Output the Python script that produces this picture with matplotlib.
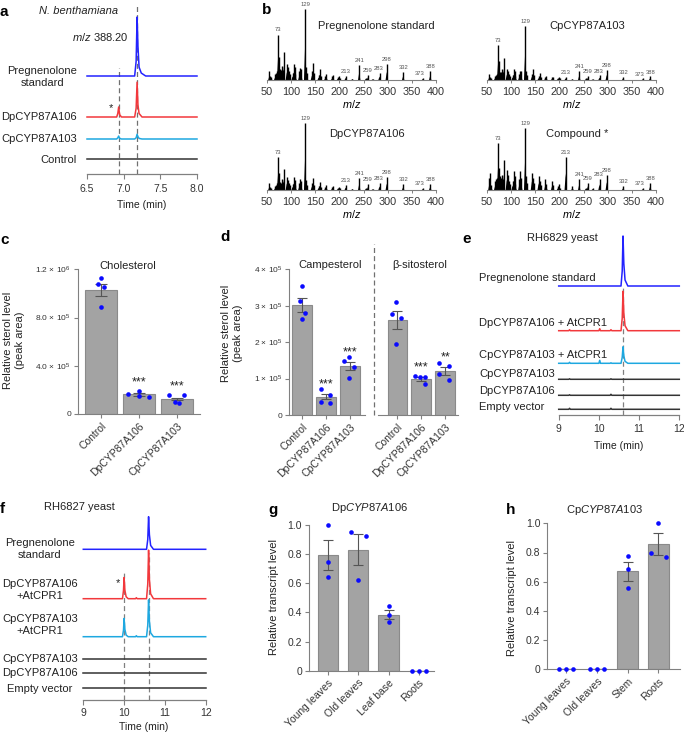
import numpy as np
import matplotlib
matplotlib.use('Agg')
import matplotlib.pyplot as plt

plt.rcParams['font.family'] = ['Liberation Sans', 'DejaVu Sans']
plt.rcParams['mathtext.fontset'] = 'custom'
plt.rcParams['mathtext.rm'] = 'Liberation Sans'
plt.rcParams['mathtext.it'] = 'Liberation Sans:italic'
plt.rcParams['font.size'] = 7.5
plt.rcParams['text.color'] = '#222222'

W, H = 684, 733

# ---------------- data ----------------
# a: N. benthamiana chromatograms (relative intensity, standard peak = 100)
a_t_std = [6.50, 7.15, 7.17, 7.183, 7.195, 7.21, 7.24, 7.30, 8.00]
a_i_std = [0, 0, 25, 100, 50, 15, 5, 0, 0]
a_t_dp = [6.50, 6.905, 6.92, 6.932, 6.945, 6.97, 7.15, 7.17, 7.183, 7.195, 7.21, 7.25, 8.00]
a_i_dp = [0, 0, 6, 17, 4, 0, 0, 15, 59, 20, 6, 0, 0]
a_t_cp = [6.50, 6.905, 6.92, 6.932, 6.945, 6.97, 7.15, 7.17, 7.183, 7.195, 7.21, 7.25, 8.00]
a_i_cp = [0, 0, 2, 5, 1, 0, 0, 2, 8, 4, 1, 0, 0]
a_t_ctrl = [6.50, 8.00]
a_i_ctrl = [0, 0]

# b: mass spectra (relative abundance, m/z 129 = 1)
mz = [55, 57, 59, 67, 69, 71, 73, 75, 77, 79, 81, 83, 85, 91, 93, 95, 97,
      103, 105, 107, 109, 117, 119, 121, 129, 131, 133, 143, 145, 147,
      157, 159, 161, 171, 173, 185, 187, 197, 199, 201, 213, 227, 241,
      255, 259, 269, 283, 298, 332, 373, 388]
ms_std = [0.12, 0.06, 0.04, 0.08, 0.10, 0.12, 0.64, 0.33, 0.15, 0.14, 0.20, 0.14, 0.39,
          0.22, 0.18, 0.12, 0.08, 0.10, 0.22, 0.18, 0.08, 0.12, 0.17, 0.16, 1.00, 0.18,
          0.10, 0.12, 0.24, 0.10, 0.07, 0.15, 0.06, 0.06, 0.08, 0.05, 0.07, 0.04, 0.06,
          0.03, 0.06, 0.02, 0.21, 0.03, 0.075, 0.02, 0.10, 0.225, 0.11, 0.03, 0.12]
ms_cp = [0.12, 0.06, 0.04, 0.08, 0.10, 0.12, 0.65, 0.35, 0.15, 0.14, 0.20, 0.14, 0.40,
         0.20, 0.16, 0.12, 0.08, 0.10, 0.20, 0.16, 0.08, 0.12, 0.17, 0.16, 1.00, 0.17,
         0.10, 0.12, 0.20, 0.10, 0.07, 0.13, 0.06, 0.06, 0.07, 0.05, 0.06, 0.04, 0.05,
         0.03, 0.06, 0.02, 0.17, 0.03, 0.08, 0.02, 0.09, 0.185, 0.06, 0.03, 0.07]
ms_dp = [0.10, 0.05, 0.03, 0.06, 0.08, 0.10, 0.49, 0.26, 0.12, 0.11, 0.16, 0.12, 0.31,
         0.20, 0.15, 0.10, 0.07, 0.09, 0.20, 0.15, 0.07, 0.11, 0.16, 0.14, 1.00, 0.15,
         0.08, 0.10, 0.18, 0.08, 0.06, 0.12, 0.05, 0.05, 0.07, 0.04, 0.06, 0.03, 0.05,
         0.03, 0.075, 0.02, 0.18, 0.03, 0.09, 0.02, 0.11, 0.19, 0.09, 0.03, 0.09]
ms_cmp = [0.20, 0.27, 0.08, 0.14, 0.18, 0.20, 0.76, 0.35, 0.22, 0.20, 0.25, 0.18, 0.49,
          0.33, 0.25, 0.15, 0.10, 0.14, 0.30, 0.22, 0.10, 0.18, 0.30, 0.20, 1.00, 0.22,
          0.12, 0.28, 0.20, 0.12, 0.22, 0.14, 0.08, 0.18, 0.10, 0.14, 0.08, 0.06, 0.09,
          0.04, 0.53, 0.07, 0.18, 0.04, 0.12, 0.03, 0.18, 0.25, 0.06, 0.03, 0.12]
ms_labels = [73, 129, 213, 241, 259, 283, 298, 332, 373, 388]

# c: cholesterol
c_groups = ['Control', 'DpCYP87A106', 'CpCYP87A103']
c_mean = [1.03e6, 0.163e6, 0.124e6]
c_sem = [0.048e6, 0.012e6, 0.012e6]
c_points = [[1.125e6, 1.076e6, 1.056e6, 0.885e6],
            [0.163e6, 0.191e6, 0.152e6, 0.141e6],
            [0.158e6, 0.155e6, 0.102e6, 0.094e6]]
c_sig = ['', '***', '***']

# d: campesterol and beta-sitosterol
d_groups = ['Control', 'DpCYP87A106', 'CpCYP87A103']
d_camp_mean = [3.02e5, 0.50e5, 1.345e5]
d_camp_sem = [0.20e5, 0.07e5, 0.11e5]
d_camp_points = [[3.54e5, 3.13e5, 2.79e5, 2.63e5],
                 [0.705e5, 0.55e5, 0.365e5, 0.34e5],
                 [1.48e5, 1.58e5, 1.33e5, 1.01e5]]
d_camp_sig = ['', '***', '***']
d_sito_mean = [2.61e5, 0.99e5, 1.21e5]
d_sito_sem = [0.24e5, 0.05e5, 0.10e5]
d_sito_points = [[3.09e5, 2.77e5, 2.66e5, 1.95e5],
                 [1.06e5, 1.05e5, 1.04e5, 0.84e5],
                 [1.44e5, 1.34e5, 1.12e5, 0.97e5]]
d_sito_sig = ['', '***', '**']

# e: RH6829 yeast chromatograms (standard peak = 100)
e_t_std = [9.0, 10.55, 10.58, 10.60, 10.62, 10.65, 10.72, 12.0]
e_i_std = [0, 0, 30, 100, 45, 12, 0, 0]
e_t_dpat = [9.0, 9.25, 9.27, 9.29, 10.0, 10.02, 10.04, 10.28, 10.30, 10.32,
            10.55, 10.58, 10.60, 10.62, 10.65, 10.72, 12.0]
e_i_dpat = [0, 0, 2, 0, 0, 4, 0, 0, 2, 0, 0, 25, 79, 35, 10, 0, 0]
e_t_cpat = [9.0, 9.25, 9.27, 9.29, 10.0, 10.02, 10.04, 10.28, 10.30, 10.32,
            10.55, 10.58, 10.60, 10.62, 10.65, 10.72, 12.0]
e_i_cpat = [0, 0, 2, 0, 0, 6, 0, 0, 1, 0, 0, 12, 33, 15, 4, 0, 0]
e_t_cp = [9.0, 9.25, 9.27, 9.29, 10.28, 10.30, 10.32, 12.0]
e_i_cp = [0, 0, 1, 0, 0, 1, 0, 0]
e_t_dp = [9.0, 9.25, 9.27, 9.29, 10.28, 10.30, 10.32, 12.0]
e_i_dp = [0, 0, 1, 0, 0, 2, 0, 0]
e_t_ev = [9.0, 9.25, 9.27, 9.29, 10.28, 10.30, 10.32, 12.0]
e_i_ev = [0, 0, 2, 0, 0, 2, 0, 0]

# f: RH6827 yeast chromatograms (standard peak = 100)
f_t_std = [9.0, 10.55, 10.58, 10.60, 10.62, 10.65, 10.72, 12.0]
f_i_std = [0, 0, 30, 100, 45, 12, 0, 0]
f_t_dpat = [9.0, 9.96, 9.985, 10.00, 10.02, 10.05, 10.10, 10.28, 10.30, 10.32,
            10.55, 10.58, 10.60, 10.62, 10.65, 10.72, 12.0]
f_i_dpat = [0, 0, 25, 65, 25, 6, 0, 0, 3, 0, 0, 45, 149, 60, 15, 0, 0]
f_t_cpat = [9.0, 9.96, 9.985, 10.00, 10.02, 10.05, 10.10, 10.28, 10.30, 10.32,
            10.55, 10.58, 10.60, 10.62, 10.65, 10.72, 12.0]
f_i_cpat = [0, 0, 20, 56, 22, 5, 0, 0, 3, 0, 0, 35, 113, 48, 12, 0, 0]
f_t_cp = [9.0, 12.0]
f_i_cp = [0, 0]
f_t_dp = [9.0, 12.0]
f_i_dp = [0, 0]
f_t_ev = [9.0, 12.0]
f_i_ev = [0, 0]

# g, h: transcript levels
g_tissues = ['Young leaves', 'Old leaves', 'Leaf base', 'Roots']
g_mean = [0.795, 0.83, 0.385, 0.0]
g_sem = [0.105, 0.105, 0.03, 0.0]
g_points = [[1.0, 0.744, 0.64], [0.95, 0.922, 0.622], [0.442, 0.38, 0.332], [0.0, 0.0, 0.0]]
h_tissues = ['Young leaves', 'Old leaves', 'Stem', 'Roots']
h_mean = [0.0, 0.0, 0.672, 0.857]
h_sem = [0.0, 0.0, 0.065, 0.075]
h_points = [[0.0, 0.0, 0.0], [0.0, 0.0, 0.0], [0.776, 0.685, 0.555], [1.0, 0.80, 0.77]]

# ---------------- styles ----------------
BLUE = '#2323ff'
RED = '#f2383c'
CYAN = '#1ea8e0'
DARK = '#333333'
AXIS = '#808080'
BAR = '#a3a3a3'
BAR_EDGE = '#8a8a8a'
ERR = '#555555'
DOT = '#0a0aff'

fig = plt.figure(figsize=(W / 100, H / 100), dpi=100)


def px_axes(left, top, right, bottom):
    return fig.add_axes([left / W, 1 - bottom / H, (right - left) / W, (bottom - top) / H])


def ftext(x, y, s, **kw):
    kw.setdefault('ha', 'center')
    kw.setdefault('va', 'center')
    fig.text(x / W, 1 - y / H, s, **kw)


def style_chrom(ax, xlim, ticks, ticklabels, height, pad):
    ax.set_xlim(xlim)
    ax.set_ylim(0, height)
    for s in ['left', 'top', 'right']:
        ax.spines[s].set_visible(False)
    ax.spines['bottom'].set_color(AXIS)
    ax.spines['bottom'].set_linewidth(0.9)
    ax.set_yticks([])
    ax.set_xticks(ticks)
    ax.set_xticklabels(ticklabels)
    ax.tick_params(axis='x', colors=AXIS, labelcolor=DARK, length=3.5, width=0.8,
                   pad=pad, labelsize=7.5)
    ax.patch.set_visible(False)


def trace(ax, t, i, base, scale, color):
    ax.plot(t, base + np.asarray(i) * scale, color=color, lw=1.1, zorder=3,
            solid_joinstyle='round', clip_on=False)


def style_bar(ax, ylim, yticks, yticklabels, xlim, xticks, xticklabels, ytick_size=7.5):
    ax.set_ylim(ylim)
    ax.set_xlim(xlim)
    for s in ['top', 'right']:
        ax.spines[s].set_visible(False)
    for s in ['left', 'bottom']:
        ax.spines[s].set_color(AXIS)
        ax.spines[s].set_linewidth(0.8)
    ax.set_yticks(yticks)
    ax.set_yticklabels(yticklabels, fontsize=ytick_size)
    ax.set_xticks(xticks)
    ax.set_xticklabels(xticklabels, rotation=45, ha='right', rotation_mode='anchor', fontsize=7.5)
    ax.tick_params(colors=AXIS, labelcolor=DARK, length=3, width=0.8, pad=2)
    ax.patch.set_visible(False)


def bars(ax, x, means, sems, points, offsets, width, capsize):
    ax.bar(x, means, width=width, color=BAR, edgecolor=BAR_EDGE, lw=0.8, zorder=1)
    ax.errorbar(x, means, yerr=sems, fmt='none', ecolor=ERR, elinewidth=0.8,
                capsize=capsize, capthick=0.8, zorder=2)
    for xi, pts, offs in zip(x, points, offsets):
        ax.scatter(xi + np.asarray(offs), pts, s=11, color=DOT, zorder=4,
                   linewidths=0, clip_on=False)


# ---------------- panel a ----------------
ax = px_axes(87, 5, 197, 174)
style_chrom(ax, (6.5, 8.0), [6.5, 7.0, 7.5, 8.0], ['6.5', '7.0', '7.5', '8.0'], 169, 4)
ax.plot([6.93, 6.93], [0, 106], ls=(0, (4, 2.5)), color='#707070', lw=0.9, zorder=1)
ax.plot([7.18, 7.18], [0, 169], ls=(0, (4, 2.5)), color='#707070', lw=0.9, zorder=1)
trace(ax, a_t_std, a_i_std, 98, 0.59, BLUE)
trace(ax, a_t_dp, a_i_dp, 57, 0.59, RED)
trace(ax, a_t_cp, a_i_cp, 35, 0.59, CYAN)
trace(ax, a_t_ctrl, a_i_ctrl, 15, 0.59, DARK)
ftext(142, 205, 'Time (min)')
ftext(79, 11, 'N. benthamiana', style='italic', fontsize=8)
ftext(100, 37, r'$m/z$ 388.20', fontsize=8)
ftext(77, 77, 'Pregnenolone\nstandard', ha='right', multialignment='center', fontsize=8, linespacing=1.25)
ftext(77, 117, 'DpCYP87A106', ha='right', fontsize=8)
ftext(77, 139, 'CpCYP87A103', ha='right', fontsize=8)
ftext(77, 160, 'Control', ha='right', fontsize=8)
ftext(111, 108, '*', fontsize=8)

# ---------------- panel b ----------------
spectra = [
    (ms_std, 'Pregnenolone standard', (267, 9, 436, 80), 376, 26),
    (ms_cp, 'CpCYP87A103', (487, 26, 656, 80), 587, 26),
    (ms_dp, 'DpCYP87A106', (267, 123, 436, 190), 367, 134),
    (ms_cmp, 'Compound *', (487, 128, 656, 190), 577, 134),
]
label_shift = {259: -1, 283: -1, 373: -7, 388: 1}
for heights, title, box, tx, ty in spectra:
    ax = px_axes(*box)
    for m, h in zip(mz, heights):
        ax.fill([m - 2.4, m, m + 2.4], [0, h * 0.5, 0], color='black', lw=0)
    ax.vlines(mz, 0, heights, color='black', lw=1.0)
    ax.set_xlim(50, 400)
    ax.set_ylim(0, 1)
    for s in ['left', 'top', 'right']:
        ax.spines[s].set_visible(False)
    ax.spines['bottom'].set_color(AXIS)
    ax.spines['bottom'].set_linewidth(0.8)
    ax.set_yticks([])
    ax.set_xticks(range(50, 401, 50))
    ax.tick_params(axis='x', colors=AXIS, labelcolor=DARK, length=2.5, width=0.7, pad=2.5, labelsize=7.8)
    ax.set_xlabel(r'$m/z$', fontsize=7.8, labelpad=1)
    ax.patch.set_visible(False)
    for m in ms_labels:
        h = heights[mz.index(m)]
        ax.text(m + label_shift.get(m, 0), h + 0.03, str(m), ha='center', va='bottom',
                fontsize=4.2, color='#555555')
    ftext(tx, ty, title, fontsize=8)

# ---------------- panel c ----------------
ax = px_axes(78, 269.3, 200, 414)
cx = np.arange(len(c_groups))
bars(ax, cx, c_mean, c_sem, c_points,
     [[0, -0.08, 0.08, 0], [-0.3, 0, 0, 0.27], [-0.22, 0.18, -0.05, 0.05]], 0.84, 4)
style_bar(ax, (0, 1.2e6), [0, 4e5, 8e5, 1.2e6],
          ['0', r'4.0 × 10$^{5}$', r'8.0 × 10$^{5}$', r'1.2 × 10$^{6}$'],
          (-0.6, 2.6), cx, c_groups, ytick_size=6)
for xi, m, e, s in zip(cx, c_mean, c_sem, c_sig):
    if s:
        ax.text(xi, m + e + 0.04e6, s, ha='center', va='bottom', fontsize=9)
ftext(128, 266, 'Cholesterol', fontsize=8)
ftext(14, 340, 'Relative sterol level\n(peak area)', rotation=90, multialignment='center', fontsize=8)

# ---------------- panel d ----------------
ax = px_axes(289.3, 269.3, 458, 415)
dx1 = np.arange(3)
dx2 = np.arange(3) + 4
bars(ax, dx1, d_camp_mean, d_camp_sem, d_camp_points,
     [[0, -0.1, 0.12, 0], [-0.22, 0.17, -0.22, 0.17], [-0.24, -0.03, 0.17, -0.03]], 0.83, 3.5)
bars(ax, dx2, d_sito_mean, d_sito_sem, d_sito_points,
     [[-0.06, -0.25, 0.15, -0.06], [-0.26, 0.15, -0.05, 0.15], [-0.24, 0.17, -0.24, 0.17]], 0.83, 3.5)
style_bar(ax, (0, 4e5), [0, 1e5, 2e5, 3e5, 4e5],
          ['0', r'1 × 10$^{5}$', r'2 × 10$^{5}$', r'3 × 10$^{5}$', r'4 × 10$^{5}$'],
          (-0.54, 6.54), np.concatenate([dx1, dx2]), d_groups + d_groups, ytick_size=6)
ax.spines['bottom'].set_visible(False)
ax.plot([-0.54, 2.62], [0, 0], color=AXIS, lw=0.8, clip_on=False)
ax.plot([3.17, 6.54], [0, 0], color=AXIS, lw=0.8, clip_on=False)
ax.plot([3.0, 3.0], [0, 4.7e5], ls=(0, (4, 2.5)), color='#707070', lw=0.9, clip_on=False)
for xs, ms, es, ss in [(dx1, d_camp_mean, d_camp_sem, d_camp_sig),
                       (dx2, d_sito_mean, d_sito_sem, d_sito_sig)]:
    for xi, m, e, s in zip(xs, ms, es, ss):
        if s:
            ax.text(xi, m + e + 0.1e5, s, ha='center', va='bottom', fontsize=9)
ftext(330, 265, 'Campesterol', fontsize=8)
ftext(420, 265, 'β-sitosterol', fontsize=8)
ftext(232, 333, 'Relative sterol level\n(peak area)', rotation=90, multialignment='center', fontsize=8)

# ---------------- panel e ----------------
ax = px_axes(558.7, 232, 679.3, 415)
style_chrom(ax, (9, 12), [9, 10, 11, 12], ['9', '10', '11', '12'], 183, 3)
ax.plot([10.6, 10.6], [0, 129], ls=(0, (4, 2.5)), color='#808080', lw=0.9, zorder=1)
trace(ax, e_t_std, e_i_std, 129, 0.5, BLUE)
trace(ax, e_t_dpat, e_i_dpat, 84.3, 0.5, RED)
trace(ax, e_t_cpat, e_i_cpat, 51.7, 0.5, CYAN)
trace(ax, e_t_cp, e_i_cp, 35.7, 0.5, DARK)
trace(ax, e_t_dp, e_i_dp, 19.7, 0.5, DARK)
trace(ax, e_t_ev, e_i_ev, 5.7, 0.5, DARK)
ftext(562, 238, 'RH6829 yeast', fontsize=8)
ftext(619, 446, 'Time (min)')
for y, s in [(278, 'Pregnenolone standard'), (323, 'DpCYP87A106 + AtCPR1'),
             (355, 'CpCYP87A103 + AtCPR1'), (374, 'CpCYP87A103'),
             (391, 'DpCYP87A106'), (407, 'Empty vector')]:
    ftext(479, y, s, ha='left', fontsize=8)

# ---------------- panel f ----------------
ax = px_axes(83.3, 510, 205.7, 700)
style_chrom(ax, (9, 12), [9, 10, 11, 12], ['9', '10', '11', '12'], 190, 2)
ax.plot([10.0, 10.0], [0, 127], ls=(0, (4, 2.5)), color='#808080', lw=0.9, zorder=1)
ax.plot([10.6, 10.6], [0, 147], ls=(0, (4, 2.5)), color='#808080', lw=0.9, zorder=1)
trace(ax, f_t_std, f_i_std, 150.7, 0.326, BLUE)
trace(ax, f_t_dpat, f_i_dpat, 101.3, 0.326, RED)
trace(ax, f_t_cpat, f_i_cpat, 63.3, 0.326, CYAN)
trace(ax, f_t_cp, f_i_cp, 40.7, 0.326, DARK)
trace(ax, f_t_dp, f_i_dp, 26.7, 0.326, DARK)
trace(ax, f_t_ev, f_i_ev, 11.7, 0.326, DARK)
ftext(79, 507, 'RH6827 yeast', fontsize=8)
ftext(144, 727, 'Time (min)')
ftext(118, 583, '*', fontsize=8)
for y, s in [(549, 'Pregnenolone\nstandard'), (590, 'DpCYP87A106\n+AtCPR1'),
             (625, 'CpCYP87A103\n+AtCPR1'), (659, 'CpCYP87A103'),
             (673, 'DpCYP87A106'), (689, 'Empty vector')]:
    ftext(40, y, s, multialignment='center', fontsize=8, linespacing=1.25)

# ---------------- panel g ----------------
ax = px_axes(309, 525, 434, 670.7)
gx = np.arange(len(g_tissues))
bars(ax, gx, g_mean, g_sem, g_points,
     [[0, 0, 0], [-0.25, 0.25, 0.0], [0, 0, 0], [-0.23, 0, 0.23]], 0.67, 3.8)
style_bar(ax, (0, 1.0), [0, 0.2, 0.4, 0.6, 0.8, 1.0], ['0', '0.2', '0.4', '0.6', '0.8', '1.0'],
          (-0.64, 3.51), gx, g_tissues)
ftext(370, 508, r'Dp$\mathit{CYP87A106}$', fontsize=8)
ftext(274, 597, 'Relative transcript level', rotation=90, fontsize=8)

# ---------------- panel h ----------------
ax = px_axes(547.3, 523.3, 680, 669.3)
hx = np.arange(len(h_tissues))
bars(ax, hx, h_mean, h_sem, h_points,
     [[-0.23, 0, 0.23], [-0.23, 0, 0.23], [0, 0, 0], [0, -0.25, 0.25]], 0.67, 3.8)
style_bar(ax, (0, 1.0), [0, 0.2, 0.4, 0.6, 0.8, 1.0], ['0', '0.2', '0.4', '0.6', '0.8', '1.0'],
          (-0.62, 3.7), hx, h_tissues)
ftext(605, 510, r'Cp$\mathit{CYP87A103}$', fontsize=8)
ftext(512, 598, 'Relative transcript level', rotation=90, fontsize=8)

# ---------------- panel letters ----------------
for x, y, s in [(0, 5, 'a'), (262, 3, 'b'), (0, 233, 'c'), (220, 230, 'd'),
                (462, 232, 'e'), (0, 502, 'f'), (268, 503, 'g'), (506, 503, 'h')]:
    ftext(x, y, s, ha='left', va='top', fontsize=11, fontweight='bold', color='black')

fig.savefig('out.png', dpi=100)
